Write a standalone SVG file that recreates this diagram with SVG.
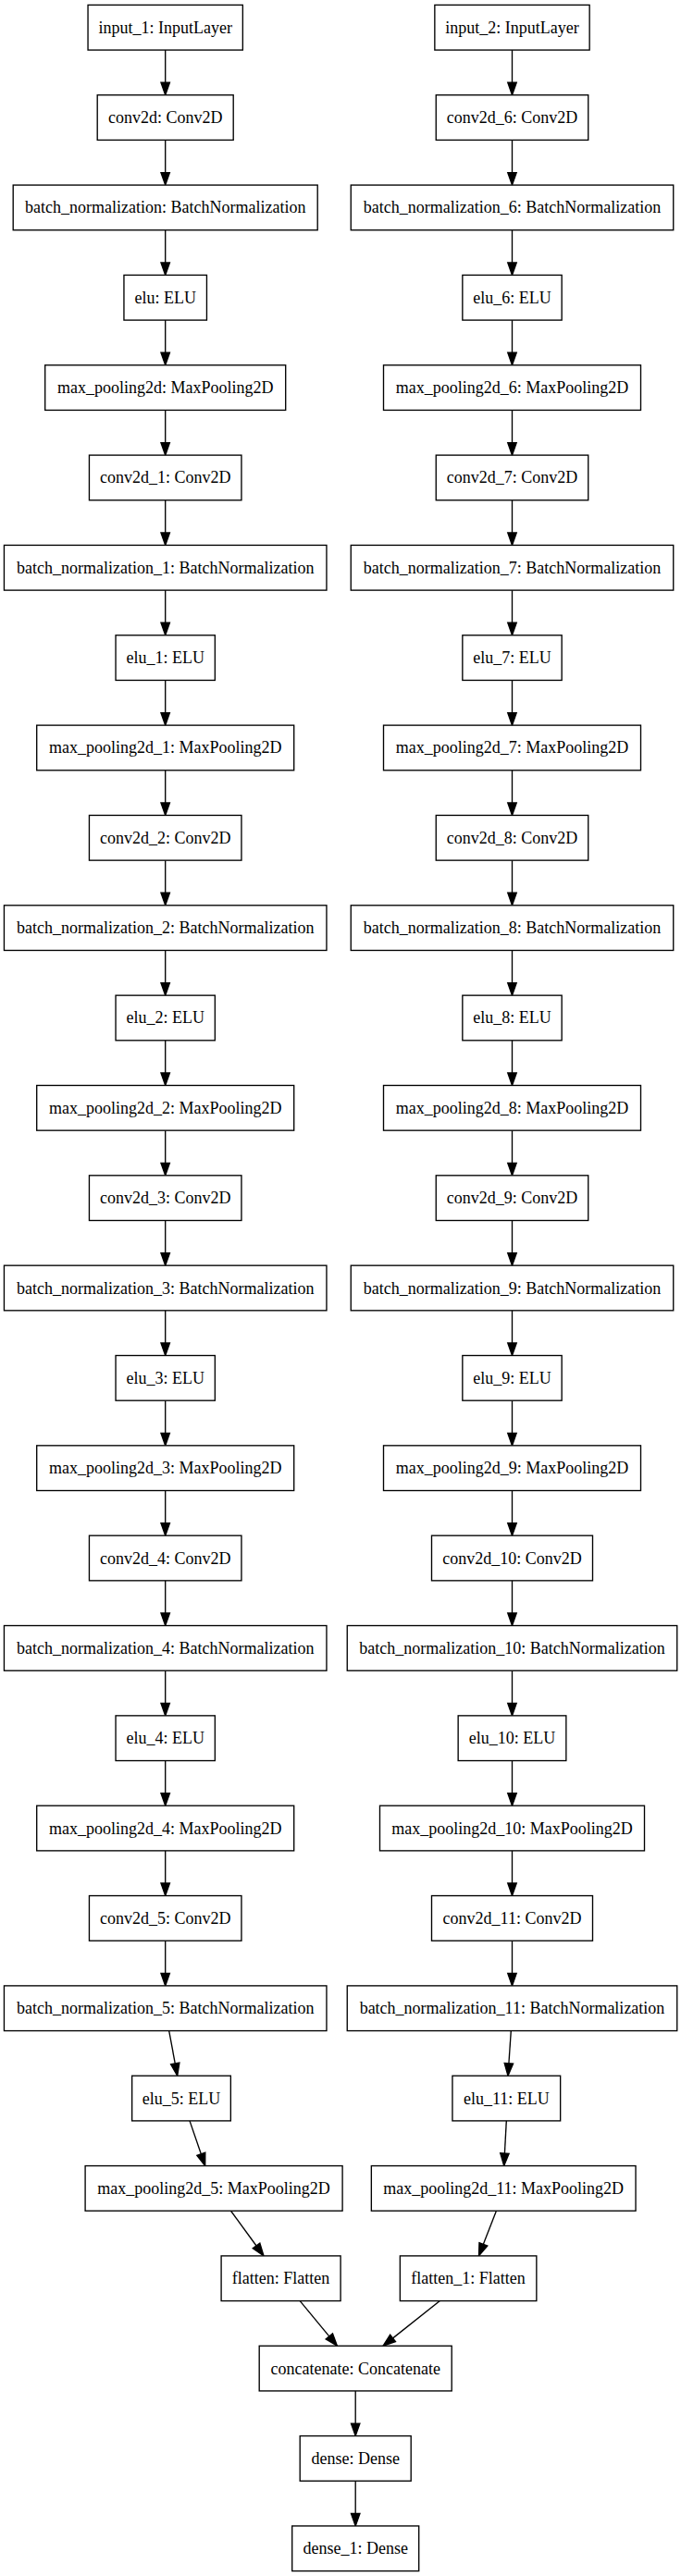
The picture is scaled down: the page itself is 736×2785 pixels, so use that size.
<svg xmlns="http://www.w3.org/2000/svg" width="736" height="2785" viewBox="0 0 736 2785">
<style>
.n rect{fill:#fff;stroke:#000;stroke-width:1.35}
.n text{font-family:"Liberation Serif","Times New Roman",serif;font-size:18px;text-anchor:middle;fill:#000}
.e line{stroke:#000;stroke-width:1.35;marker-end:url(#ah)}
</style>
<defs>
<marker id="ah" markerUnits="userSpaceOnUse" markerWidth="16" markerHeight="12" refX="0" refY="4.73" orient="auto" overflow="visible">
<path d="M0,0 L13.5,4.73 L0,9.46 Z" fill="#000" stroke="#000" stroke-width="1.35"/>
</marker>
</defs>
<rect x="0" y="0" width="736" height="2785" fill="#fff"/>
<g id="edges" class="e">
<line x1="178.7" y1="54.08" x2="178.7" y2="89.24"/>
<line x1="178.7" y1="151.42" x2="178.7" y2="186.58"/>
<line x1="178.7" y1="248.76" x2="178.7" y2="283.92"/>
<line x1="178.7" y1="346.10" x2="178.7" y2="381.26"/>
<line x1="178.7" y1="443.44" x2="178.7" y2="478.60"/>
<line x1="178.7" y1="540.78" x2="178.7" y2="575.94"/>
<line x1="178.7" y1="638.12" x2="178.7" y2="673.28"/>
<line x1="178.7" y1="735.46" x2="178.7" y2="770.62"/>
<line x1="178.7" y1="832.80" x2="178.7" y2="867.96"/>
<line x1="178.7" y1="930.14" x2="178.7" y2="965.30"/>
<line x1="178.7" y1="1027.48" x2="178.7" y2="1062.64"/>
<line x1="178.7" y1="1124.82" x2="178.7" y2="1159.98"/>
<line x1="178.7" y1="1222.16" x2="178.7" y2="1257.32"/>
<line x1="178.7" y1="1319.50" x2="178.7" y2="1354.66"/>
<line x1="178.7" y1="1416.84" x2="178.7" y2="1452.00"/>
<line x1="178.7" y1="1514.18" x2="178.7" y2="1549.34"/>
<line x1="178.7" y1="1611.52" x2="178.7" y2="1646.68"/>
<line x1="178.7" y1="1708.86" x2="178.7" y2="1744.02"/>
<line x1="178.7" y1="1806.20" x2="178.7" y2="1841.36"/>
<line x1="178.7" y1="1903.54" x2="178.7" y2="1938.70"/>
<line x1="178.7" y1="2000.88" x2="178.7" y2="2036.04"/>
<line x1="178.7" y1="2098.22" x2="178.7" y2="2133.38"/>
<line x1="182.7" y1="2195.56" x2="189.24" y2="2230.95"/>
<line x1="205" y1="2292.90" x2="217.32" y2="2328.79"/>
<line x1="249.5" y1="2390.24" x2="277.04" y2="2427.99"/>
<line x1="324.2" y1="2487.58" x2="355.8" y2="2525.83"/>
<line x1="553.5" y1="54.08" x2="553.5" y2="89.24"/>
<line x1="553.5" y1="151.42" x2="553.5" y2="186.58"/>
<line x1="553.5" y1="248.76" x2="553.5" y2="283.92"/>
<line x1="553.5" y1="346.10" x2="553.5" y2="381.26"/>
<line x1="553.5" y1="443.44" x2="553.5" y2="478.60"/>
<line x1="553.5" y1="540.78" x2="553.5" y2="575.94"/>
<line x1="553.5" y1="638.12" x2="553.5" y2="673.28"/>
<line x1="553.5" y1="735.46" x2="553.5" y2="770.62"/>
<line x1="553.5" y1="832.80" x2="553.5" y2="867.96"/>
<line x1="553.5" y1="930.14" x2="553.5" y2="965.30"/>
<line x1="553.5" y1="1027.48" x2="553.5" y2="1062.64"/>
<line x1="553.5" y1="1124.82" x2="553.5" y2="1159.98"/>
<line x1="553.5" y1="1222.16" x2="553.5" y2="1257.32"/>
<line x1="553.5" y1="1319.50" x2="553.5" y2="1354.66"/>
<line x1="553.5" y1="1416.84" x2="553.5" y2="1452.00"/>
<line x1="553.5" y1="1514.18" x2="553.5" y2="1549.34"/>
<line x1="553.5" y1="1611.52" x2="553.5" y2="1646.68"/>
<line x1="553.5" y1="1708.86" x2="553.5" y2="1744.02"/>
<line x1="553.5" y1="1806.20" x2="553.5" y2="1841.36"/>
<line x1="553.5" y1="1903.54" x2="553.5" y2="1938.70"/>
<line x1="553.5" y1="2000.88" x2="553.5" y2="2036.04"/>
<line x1="553.5" y1="2098.22" x2="553.5" y2="2133.38"/>
<line x1="552.3" y1="2195.56" x2="549.91" y2="2230.75"/>
<line x1="547.3" y1="2292.90" x2="545.42" y2="2328.08"/>
<line x1="536.4" y1="2390.24" x2="522.39" y2="2426.32"/>
<line x1="475.4" y1="2487.58" x2="424.58" y2="2527.85"/>
<line x1="384.2" y1="2584.92" x2="384.2" y2="2620.08"/>
<line x1="384.2" y1="2682.26" x2="384.2" y2="2717.42"/>
</g>
<g id="input_1" class="n"><rect x="95.05" y="5.40" width="167.3" height="48.68"/><text x="178.7" y="35.74">input_1: InputLayer</text></g>
<g id="conv2d" class="n"><rect x="105.2" y="102.74" width="147" height="48.68"/><text x="178.7" y="133.08">conv2d: Conv2D</text></g>
<g id="batch_normalization" class="n"><rect x="14.2" y="200.08" width="329" height="48.68"/><text x="178.7" y="230.42">batch_normalization: BatchNormalization</text></g>
<g id="elu" class="n"><rect x="133.95" y="297.42" width="89.5" height="48.68"/><text x="178.7" y="327.76">elu: ELU</text></g>
<g id="max_pooling2d" class="n"><rect x="48.7" y="394.76" width="260" height="48.68"/><text x="178.7" y="425.10">max_pooling2d: MaxPooling2D</text></g>
<g id="conv2d_1" class="n"><rect x="96.45" y="492.10" width="164.5" height="48.68"/><text x="178.7" y="522.44">conv2d_1: Conv2D</text></g>
<g id="batch_normalization_1" class="n"><rect x="4.45" y="589.44" width="348.5" height="48.68"/><text x="178.7" y="619.78">batch_normalization_1: BatchNormalization</text></g>
<g id="elu_1" class="n"><rect x="125.05" y="686.78" width="107.3" height="48.68"/><text x="178.7" y="717.12">elu_1: ELU</text></g>
<g id="max_pooling2d_1" class="n"><rect x="39.7" y="784.12" width="278" height="48.68"/><text x="178.7" y="814.46">max_pooling2d_1: MaxPooling2D</text></g>
<g id="conv2d_2" class="n"><rect x="96.45" y="881.46" width="164.5" height="48.68"/><text x="178.7" y="911.80">conv2d_2: Conv2D</text></g>
<g id="batch_normalization_2" class="n"><rect x="4.45" y="978.80" width="348.5" height="48.68"/><text x="178.7" y="1009.14">batch_normalization_2: BatchNormalization</text></g>
<g id="elu_2" class="n"><rect x="125.05" y="1076.14" width="107.3" height="48.68"/><text x="178.7" y="1106.48">elu_2: ELU</text></g>
<g id="max_pooling2d_2" class="n"><rect x="39.7" y="1173.48" width="278" height="48.68"/><text x="178.7" y="1203.82">max_pooling2d_2: MaxPooling2D</text></g>
<g id="conv2d_3" class="n"><rect x="96.45" y="1270.82" width="164.5" height="48.68"/><text x="178.7" y="1301.16">conv2d_3: Conv2D</text></g>
<g id="batch_normalization_3" class="n"><rect x="4.45" y="1368.16" width="348.5" height="48.68"/><text x="178.7" y="1398.50">batch_normalization_3: BatchNormalization</text></g>
<g id="elu_3" class="n"><rect x="125.05" y="1465.50" width="107.3" height="48.68"/><text x="178.7" y="1495.84">elu_3: ELU</text></g>
<g id="max_pooling2d_3" class="n"><rect x="39.7" y="1562.84" width="278" height="48.68"/><text x="178.7" y="1593.18">max_pooling2d_3: MaxPooling2D</text></g>
<g id="conv2d_4" class="n"><rect x="96.45" y="1660.18" width="164.5" height="48.68"/><text x="178.7" y="1690.52">conv2d_4: Conv2D</text></g>
<g id="batch_normalization_4" class="n"><rect x="4.45" y="1757.52" width="348.5" height="48.68"/><text x="178.7" y="1787.86">batch_normalization_4: BatchNormalization</text></g>
<g id="elu_4" class="n"><rect x="125.05" y="1854.86" width="107.3" height="48.68"/><text x="178.7" y="1885.20">elu_4: ELU</text></g>
<g id="max_pooling2d_4" class="n"><rect x="39.7" y="1952.20" width="278" height="48.68"/><text x="178.7" y="1982.54">max_pooling2d_4: MaxPooling2D</text></g>
<g id="conv2d_5" class="n"><rect x="96.45" y="2049.54" width="164.5" height="48.68"/><text x="178.7" y="2079.88">conv2d_5: Conv2D</text></g>
<g id="batch_normalization_5" class="n"><rect x="4.45" y="2146.88" width="348.5" height="48.68"/><text x="178.7" y="2177.22">batch_normalization_5: BatchNormalization</text></g>
<g id="elu_5" class="n"><rect x="142.65" y="2244.22" width="106.7" height="48.68"/><text x="196" y="2274.56">elu_5: ELU</text></g>
<g id="max_pooling2d_5" class="n"><rect x="92.1" y="2341.56" width="278" height="48.68"/><text x="231.1" y="2371.90">max_pooling2d_5: MaxPooling2D</text></g>
<g id="flatten" class="n"><rect x="239.1" y="2438.90" width="129" height="48.68"/><text x="303.6" y="2469.24">flatten: Flatten</text></g>
<g id="input_2" class="n"><rect x="469.85" y="5.40" width="167.3" height="48.68"/><text x="553.5" y="35.74">input_2: InputLayer</text></g>
<g id="conv2d_6" class="n"><rect x="471.25" y="102.74" width="164.5" height="48.68"/><text x="553.5" y="133.08">conv2d_6: Conv2D</text></g>
<g id="batch_normalization_6" class="n"><rect x="379.25" y="200.08" width="348.5" height="48.68"/><text x="553.5" y="230.42">batch_normalization_6: BatchNormalization</text></g>
<g id="elu_6" class="n"><rect x="499.85" y="297.42" width="107.3" height="48.68"/><text x="553.5" y="327.76">elu_6: ELU</text></g>
<g id="max_pooling2d_6" class="n"><rect x="414.5" y="394.76" width="278" height="48.68"/><text x="553.5" y="425.10">max_pooling2d_6: MaxPooling2D</text></g>
<g id="conv2d_7" class="n"><rect x="471.25" y="492.10" width="164.5" height="48.68"/><text x="553.5" y="522.44">conv2d_7: Conv2D</text></g>
<g id="batch_normalization_7" class="n"><rect x="379.25" y="589.44" width="348.5" height="48.68"/><text x="553.5" y="619.78">batch_normalization_7: BatchNormalization</text></g>
<g id="elu_7" class="n"><rect x="499.85" y="686.78" width="107.3" height="48.68"/><text x="553.5" y="717.12">elu_7: ELU</text></g>
<g id="max_pooling2d_7" class="n"><rect x="414.5" y="784.12" width="278" height="48.68"/><text x="553.5" y="814.46">max_pooling2d_7: MaxPooling2D</text></g>
<g id="conv2d_8" class="n"><rect x="471.25" y="881.46" width="164.5" height="48.68"/><text x="553.5" y="911.80">conv2d_8: Conv2D</text></g>
<g id="batch_normalization_8" class="n"><rect x="379.25" y="978.80" width="348.5" height="48.68"/><text x="553.5" y="1009.14">batch_normalization_8: BatchNormalization</text></g>
<g id="elu_8" class="n"><rect x="499.85" y="1076.14" width="107.3" height="48.68"/><text x="553.5" y="1106.48">elu_8: ELU</text></g>
<g id="max_pooling2d_8" class="n"><rect x="414.5" y="1173.48" width="278" height="48.68"/><text x="553.5" y="1203.82">max_pooling2d_8: MaxPooling2D</text></g>
<g id="conv2d_9" class="n"><rect x="471.25" y="1270.82" width="164.5" height="48.68"/><text x="553.5" y="1301.16">conv2d_9: Conv2D</text></g>
<g id="batch_normalization_9" class="n"><rect x="379.25" y="1368.16" width="348.5" height="48.68"/><text x="553.5" y="1398.50">batch_normalization_9: BatchNormalization</text></g>
<g id="elu_9" class="n"><rect x="499.85" y="1465.50" width="107.3" height="48.68"/><text x="553.5" y="1495.84">elu_9: ELU</text></g>
<g id="max_pooling2d_9" class="n"><rect x="414.5" y="1562.84" width="278" height="48.68"/><text x="553.5" y="1593.18">max_pooling2d_9: MaxPooling2D</text></g>
<g id="conv2d_10" class="n"><rect x="466.5" y="1660.18" width="174" height="48.68"/><text x="553.5" y="1690.52">conv2d_10: Conv2D</text></g>
<g id="batch_normalization_10" class="n"><rect x="375.25" y="1757.52" width="356.5" height="48.68"/><text x="553.5" y="1787.86">batch_normalization_10: BatchNormalization</text></g>
<g id="elu_10" class="n"><rect x="495.15" y="1854.86" width="116.7" height="48.68"/><text x="553.5" y="1885.20">elu_10: ELU</text></g>
<g id="max_pooling2d_10" class="n"><rect x="410.5" y="1952.20" width="286" height="48.68"/><text x="553.5" y="1982.54">max_pooling2d_10: MaxPooling2D</text></g>
<g id="conv2d_11" class="n"><rect x="466.5" y="2049.54" width="174" height="48.68"/><text x="553.5" y="2079.88">conv2d_11: Conv2D</text></g>
<g id="batch_normalization_11" class="n"><rect x="375.25" y="2146.88" width="356.5" height="48.68"/><text x="553.5" y="2177.22">batch_normalization_11: BatchNormalization</text></g>
<g id="elu_11" class="n"><rect x="488.95" y="2244.22" width="116.7" height="48.68"/><text x="547.3" y="2274.56">elu_11: ELU</text></g>
<g id="max_pooling2d_11" class="n"><rect x="401.35" y="2341.56" width="285.7" height="48.68"/><text x="544.2" y="2371.90">max_pooling2d_11: MaxPooling2D</text></g>
<g id="flatten_1" class="n"><rect x="432.35" y="2438.90" width="147.5" height="48.68"/><text x="506.1" y="2469.24">flatten_1: Flatten</text></g>
<g id="concatenate" class="n"><rect x="280.2" y="2536.24" width="208" height="48.68"/><text x="384.2" y="2566.58">concatenate: Concatenate</text></g>
<g id="dense" class="n"><rect x="324.2" y="2633.58" width="120" height="48.68"/><text x="384.2" y="2663.92">dense: Dense</text></g>
<g id="dense_1" class="n"><rect x="315.7" y="2730.92" width="137" height="48.68"/><text x="384.2" y="2761.26">dense_1: Dense</text></g>
</svg>
